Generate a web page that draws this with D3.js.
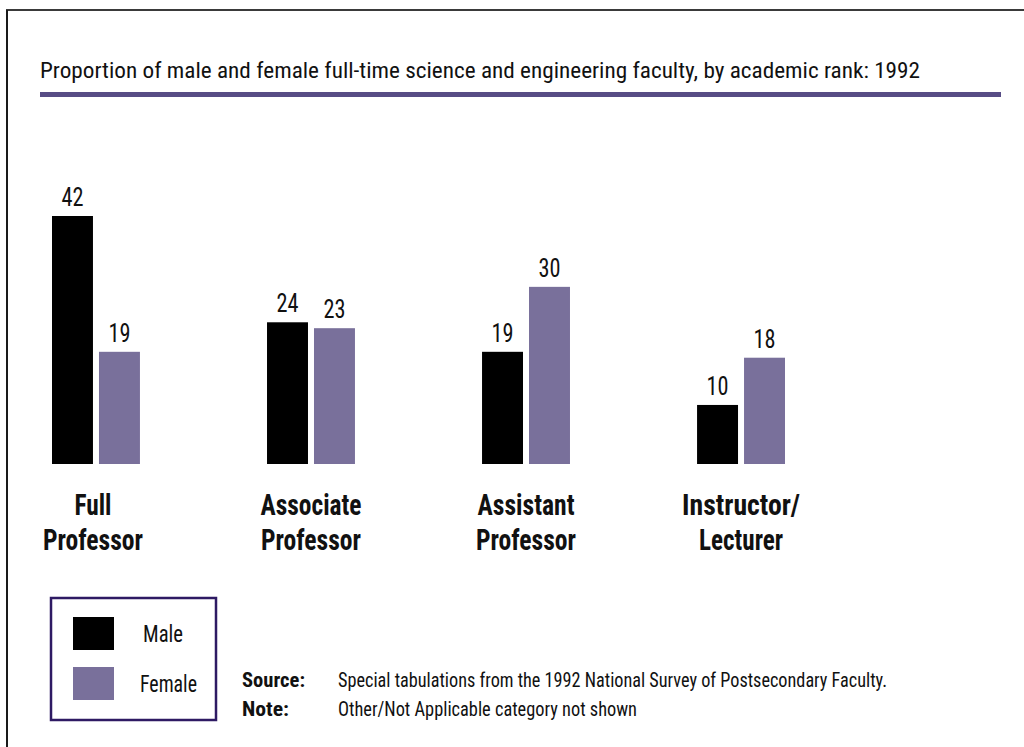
<!DOCTYPE html>
<html>
<head>
<meta charset="utf-8">
<script src="https://cdn.jsdelivr.net/npm/d3@7"></script>
<style>
  html, body { margin: 0; padding: 0; background: #fff; overflow: hidden; }
  svg { display: block; }
  text { font-family: "Liberation Sans Narrow", "Roboto Condensed", "DejaVu Sans Condensed", "Liberation Sans", sans-serif; fill: #111; }
</style>
</head>
<body>
<svg id="chart" width="1024" height="747"></svg>
<script>
const titleText = "Proportion of male and female full-time science and engineering faculty, by academic rank: 1992";
const categories = ["Full Professor", "Associate Professor", "Assistant Professor", "Instructor/ Lecturer"];
const categoryLines = [["Full", "Professor"], ["Associate", "Professor"], ["Assistant", "Professor"], ["Instructor/", "Lecturer"]];
const seriesNames = ["Male", "Female"];
const maleValues = [42, 24, 19, 10];
const femaleValues = [19, 23, 30, 18];
const colors = ["#000000", "#79709b"];
const sourceText = "Special tabulations from the 1992 National Survey of Postsecondary Faculty.";
const noteText = "Other/Not Applicable category not shown";

const svg = d3.select("#chart");

// frame lines (top and left)
svg.append("line").attr("x1", 6).attr("x2", 1024).attr("y1", 10).attr("y2", 10)
  .attr("stroke", "#3a3a3a").attr("stroke-width", 2);
svg.append("line").attr("x1", 7).attr("x2", 7).attr("y1", 10).attr("y2", 747)
  .attr("stroke", "#1a1a1a").attr("stroke-width", 2);

// title
svg.append("text").attr("x", 40).attr("y", 78)
  .attr("font-size", 22)
  .attr("textLength", 880).attr("lengthAdjust", "spacingAndGlyphs")
  .text(titleText);
svg.append("rect").attr("x", 40).attr("y", 92).attr("width", 961).attr("height", 5)
  .attr("fill", "#574c85");

// scales
const x0 = d3.scaleBand().domain(categories).range([52, 785]).paddingInner(0.591).paddingOuter(0);
const x1 = d3.scaleBand().domain(seriesNames).range([0, x0.bandwidth()]).paddingInner(0.128).paddingOuter(0);
const y = d3.scaleLinear().domain([0, 42]).range([464, 216]);

const data = categories.map((c, i) => ({
  cat: c,
  vals: [{ s: "Male", v: maleValues[i] }, { s: "Female", v: femaleValues[i] }]
}));

const groups = svg.append("g").selectAll("g").data(data).join("g")
  .attr("transform", d => `translate(${x0(d.cat)},0)`);

groups.selectAll("rect").data(d => d.vals).join("rect")
  .attr("x", d => x1(d.s))
  .attr("y", d => y(d.v))
  .attr("width", x1.bandwidth())
  .attr("height", d => y(0) - y(d.v))
  .attr("fill", (d, i) => colors[i]);

groups.selectAll("text.val").data(d => d.vals).join("text")
  .attr("class", "val")
  .attr("x", d => x1(d.s) + x1.bandwidth() / 2)
  .attr("y", d => y(d.v) - 10)
  .attr("text-anchor", "middle")
  .attr("font-size", 25)
  .attr("textLength", 22).attr("lengthAdjust", "spacingAndGlyphs")
  .text(d => d.v);

// category labels
const labelWidths = [[37, 100], [101, 100], [97, 100], [118, 84]];
groups.each(function (d, i) {
  const g = d3.select(this);
  const cx = x0.bandwidth() / 2 - (i === 0 ? 3 : 0);
  categoryLines[i].forEach((ln, j) => {
    g.append("text")
      .attr("x", cx)
      .attr("y", 515 + j * 35)
      .attr("text-anchor", "middle")
      .attr("font-size", 29)
      .attr("font-weight", "bold")
      .attr("textLength", labelWidths[i][j])
      .attr("lengthAdjust", "spacingAndGlyphs")
      .text(ln);
  });
});

// legend
const legend = svg.append("g");
legend.append("rect").attr("x", 51).attr("y", 598).attr("width", 165).attr("height", 122)
  .attr("fill", "none").attr("stroke", "#2e1a63").attr("stroke-width", 2.5);
const legWidths = [40, 57];
seriesNames.forEach((s, i) => {
  legend.append("rect").attr("x", 73).attr("y", 617 + i * 50).attr("width", 41).attr("height", 33)
    .attr("fill", colors[i]);
  legend.append("text").attr("x", i === 0 ? 143 : 140).attr("y", 642 + i * 50)
    .attr("font-size", 23)
    .attr("textLength", legWidths[i]).attr("lengthAdjust", "spacingAndGlyphs")
    .text(s);
});

// source / note
const notes = svg.append("g");
notes.append("text").attr("x", 242).attr("y", 687).attr("font-size", 20).attr("font-weight", "bold")
  .attr("textLength", 63).attr("lengthAdjust", "spacingAndGlyphs").text("Source:");
notes.append("text").attr("x", 242).attr("y", 716).attr("font-size", 20).attr("font-weight", "bold")
  .attr("textLength", 47).attr("lengthAdjust", "spacingAndGlyphs").text("Note:");
notes.append("text").attr("x", 338).attr("y", 687).attr("font-size", 20)
  .attr("textLength", 549).attr("lengthAdjust", "spacingAndGlyphs").text(sourceText);
notes.append("text").attr("x", 338).attr("y", 716).attr("font-size", 20)
  .attr("textLength", 299).attr("lengthAdjust", "spacingAndGlyphs").text(noteText);
</script>
</body>
</html>
